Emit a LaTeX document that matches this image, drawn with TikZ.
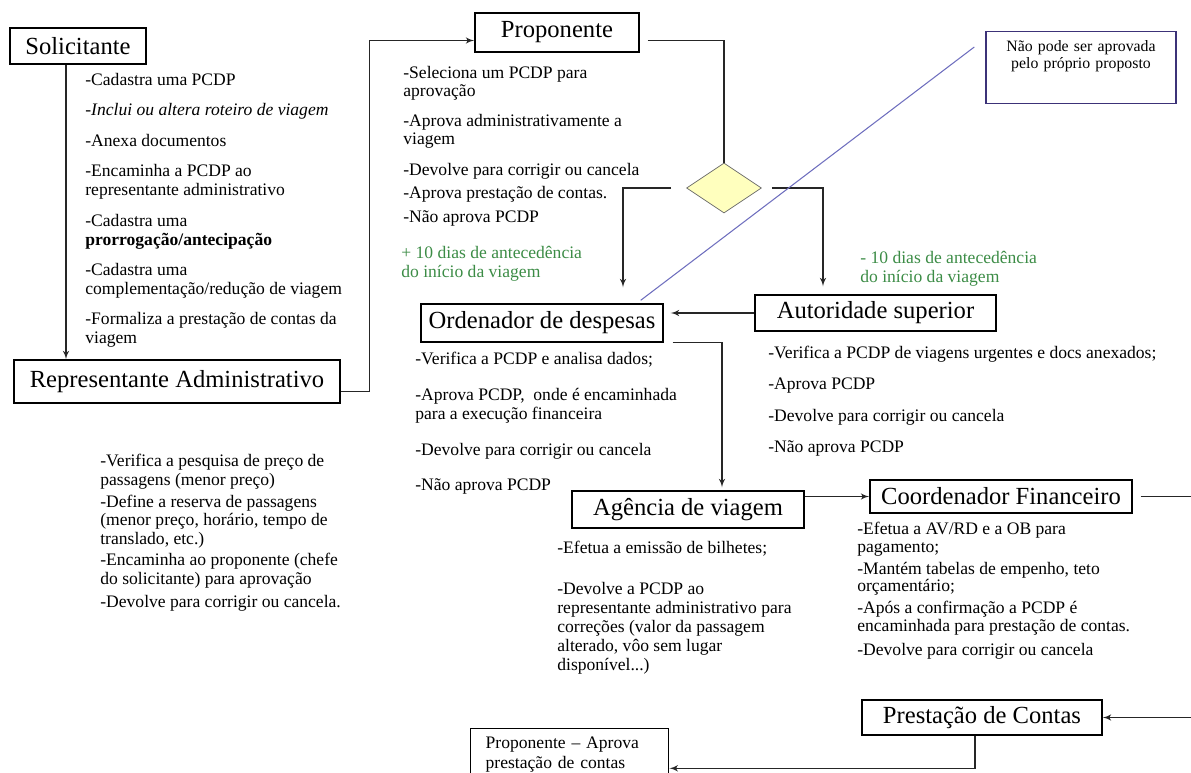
\documentclass[tikz,border=0pt]{standalone}
\usepackage{fontspec}
\setmainfont{Liberation Serif}
\usetikzlibrary{arrows,calc,shapes.geometric}
\newdimen\px
\px=0.02cm
\definecolor{prazo}{RGB}{60,140,70}
\definecolor{notecol}{RGB}{60,50,120}
\definecolor{linkcol}{RGB}{110,110,190}
\definecolor{losango}{RGB}{255,255,190}

\begin{document}
\begin{tikzpicture}[x=0.02cm,y=-0.02cm]

\useasboundingbox (0,0) rectangle (1191,773);
\clip (0,0) rectangle (1191,773);

\tikzset{actor/.style = {draw, line width=0.8pt, inner sep=0pt, font=\fontsize{14}{16}\selectfont}}
\tikzset{edge/.style = {->,> = latex', line width=0.7pt, black!85}}
\tikzset{desc/.style = {anchor=north west, align=left, inner sep=0pt, font=\fontsize{10}{10.8}\selectfont}}

\foreach \pos/\w/\h/\name/\txt in {{(78,46)/136/36/sol/Solicitante},
  {(177,381.5)/326/43/rep/Representante Administrativo},
  {(557,32.5)/164/39/prop/Proponente}, {(542,323)/242/38/ord/Ordenador de despesas},
  {(875.5,313)/241/36/aut/Autoridade superior}, {(688,509.5)/232/37/ag/Agência de viagem},
  {(1001,496.5)/262/33/coord/Coordenador Financeiro}, {(982,717.5)/240/35/prest/Prestação de Contas}}
\node[actor, minimum width=\w\px, minimum height=\h\px] (\name) at \pos {\txt};

\node[diamond, draw=black!60, fill=losango, inner sep=0pt,
  minimum width=75\px, minimum height=50\px] (dec) at (724,188) {};

\node[draw=notecol, line width=0.8pt, anchor=north, text width=172\px, inner xsep=9\px,
  inner ysep=9\px, text depth=43\px, align=center, font=\fontsize{9}{9.6}\selectfont]
  (nota) at (1081,31) {Não pode ser aprovada\\pelo próprio proposto};

\node[draw, line width=0.8pt, anchor=north west, text width=168\px, inner xsep=15\px,
  inner ysep=8\px, align=left, font=\fontsize{10}{11.3}\selectfont]
  (fim) at (470,728) {Proponente – Aprova\\prestação de contas};

% textos de cada ator
\node[desc] (tsol) at (85,73) {-Cadastra uma PCDP\\[6.5pt]
  \textit{-Inclui ou altera roteiro de viagem}\\[6.5pt]
  -Anexa documentos\\[6.5pt]
  -Encaminha a PCDP ao\\representante administrativo\\[6.5pt]
  -Cadastra uma\\\textbf{prorrogação/antecipação}\\[6.5pt]
  -Cadastra uma\\complementação/redução de viagem\\[6.5pt]
  -Formaliza a prestação de contas da\\viagem};

\node[desc, font=\fontsize{10}{10}\selectfont] (tprop) at (403,66) {-Seleciona um PCDP para\\aprovação\\[7.5pt]
  -Aprova administrativamente a\\viagem\\[7.5pt]
  -Devolve para corrigir ou cancela\\[3.5pt]
  -Aprova prestação de contas.\\[3.5pt]
  -Não aprova PCDP};

\node[desc, font=\fontsize{10}{10.5}\selectfont] (trep) at (100,454) {-Verifica a pesquisa de preço de\\passagens (menor preço)\\[2pt]
  -Define a reserva de passagens\\(menor preço, horário, tempo de\\translado, etc.)\\[2pt]
  -Encaminha ao proponente (chefe\\do solicitante) para aprovação\\[2.5pt]
  -Devolve para corrigir ou cancela.};

\node[desc] (tord) at (415,352) {-Verifica a PCDP e analisa dados;\\[9.5pt]
  -Aprova PCDP,\ \ onde é encaminhada\\para a execução financeira\\[9.5pt]
  -Devolve para corrigir ou cancela\\[9.5pt]
  -Não aprova PCDP};

\node[desc] (taut) at (768,346) {-Verifica a PCDP de viagens urgentes e docs anexados;\\[7pt]
  -Aprova PCDP\\[7pt]
  -Devolve para corrigir ou cancela\\[7pt]
  -Não aprova PCDP};

\node[desc] (tag) at (557,541) {-Efetua a emissão de bilhetes;\\[12.4pt]
  -Devolve a PCDP ao\\representante administrativo para\\correções (valor da passagem\\alterado, vôo sem lugar\\disponível...)};

\node[desc, font=\fontsize{10}{10}\selectfont] (tcoord) at (857,522) {-Efetua a AV/RD e a OB para\\pagamento;\\[2.5pt]
  -Mantém tabelas de empenho, teto\\orçamentário;\\[2.5pt]
  -Após a confirmação a PCDP é\\encaminhada para prestação de contas.\\[3.5pt]
  -Devolve para corrigir ou cancela};

\node[desc, text=prazo] (mais) at (401,246) {+ 10 dias de antecedência\\do início da viagem};
\node[desc, text=prazo] (menos) at (860,251) {- 10 dias de antecedência\\do início da viagem};

% ligacoes
\coordinate (saida) at (1195,496.5);
\coordinate (volta) at (1195,717.5);

\draw[edge] ([xshift=-12\px]sol.south) -- ([xshift=-12\px]sol.south |- rep.north);
\draw[edge] ([yshift=-10\px]rep.east) -- ++(29,0) |- ([yshift=-8\px]prop.west);
\draw[edge,-] ([xshift=8\px,yshift=-8\px]prop.east) -| (dec.north);
\draw[edge, shorten >=16\px] ([xshift=-15\px]dec.west) -| ([xshift=81\px]ord.north);
\draw[edge, shorten >=8\px] ([xshift=10\px]dec.east) -| ([xshift=-52.5\px]aut.north);
\draw[edge, shorten >=7\px] (aut.west) -- (aut.west -| ord.east);
\draw[edge, shorten >=3\px] ([xshift=9\px]ord.south east) -| ([xshift=34\px]ag.north);
\draw[edge] (ag.east |- coord.west) -- (coord.west);
\draw[edge,-] ([xshift=8\px]coord.east) -- (saida);
\draw[edge] (volta) -- (prest.east);
\draw[edge] ([xshift=-7\px]prest.south) |- ([yshift=-14\px]fim.east);

\draw[linkcol, line width=0.6pt] ($(nota.north west)+(-11,16)$) -- ($(ord.north east)+(-23,-3)$);
\end{tikzpicture}
\end{document}
